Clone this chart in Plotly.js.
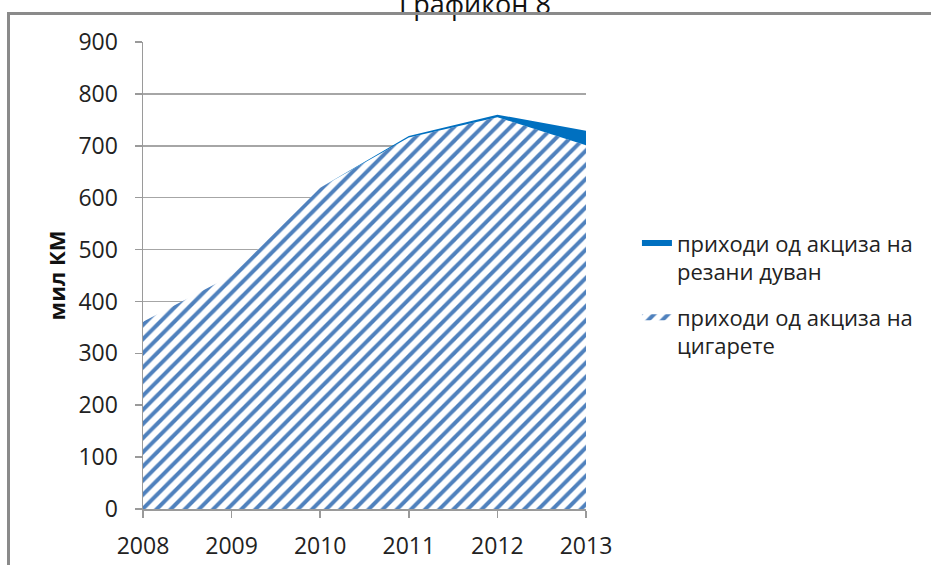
<!DOCTYPE html>
<html>
<head>
<meta charset="utf-8">
<script src="https://cdn.plot.ly/plotly-3.0.1.min.js"></script>
<style>
  html, body { margin: 0; padding: 0; background: #fff; overflow: hidden; }
  #chart { width: 931px; height: 565px; position: absolute; left: 0; top: 0; }
  #frame { position: absolute; left: 7px; top: 12px; width: 1000px; height: 700px;
           border-top: 3px solid #8a8a8a; border-left: 3px solid #8a8a8a; pointer-events: none; }
</style>
</head>
<body>
<div id="chart"></div>
<div id="frame"></div>
<script>
const years = [2008, 2009, 2010, 2011, 2012, 2013];
const cigarettes = [361, 450, 619, 716, 755, 701];
const cutTobacco = [0, 0, 0, 3, 5, 28];
const seriesNames = ['приходи од акциза на<br>цигарете', 'приходи од акциза на<br>резани дуван'];
const yTicks = [0, 100, 200, 300, 400, 500, 600, 700, 800, 900];

const font = 'Open Sans, Liberation Sans, sans-serif';

const traces = [
  {
    x: years, y: cigarettes, name: seriesNames[0], type: 'scatter', mode: 'none',
    stackgroup: 'one', fillcolor: 'white',
    fillpattern: {shape: '/', fgcolor: '#4f81bd', bgcolor: 'white', size: 10, solidity: 0.4},
    legendgroup: 'a', legendrank: 2
  },
  {
    x: years, y: cutTobacco, name: seriesNames[1], type: 'scatter', mode: 'none',
    stackgroup: 'one', fillcolor: '#0070c0',
    legendgroup: 'b', legendrank: 1
  }
];

const layout = {
  width: 931, height: 565,
  margin: {l: 143, r: 345, t: 42, b: 56},
  paper_bgcolor: 'white', plot_bgcolor: 'white',
  font: {family: font, color: '#222', size: 22},
  title: {text: 'Графикон 8', font: {family: font, size: 27, color: '#111'},
          x: 475 / 931, xanchor: 'center', y: 1 - 14 / 565, yanchor: 'bottom'},
  showlegend: true,
  legend: {x: 1.115, xanchor: 'left', y: 0.614, yanchor: 'top', traceorder: 'grouped',
           valign: 'top', tracegroupgap: 14, font: {family: font, size: 22, color: '#222'},
           bgcolor: 'rgba(0,0,0,0)', itemwidth: 30},
  xaxis: {range: [2008, 2013], tickvals: years, ticktext: years.map(String),
          showgrid: false, zeroline: false, showline: true, linecolor: '#9a9a9a', linewidth: 1.5,
          ticks: 'outside', ticklen: 7, tickcolor: '#9a9a9a', tickwidth: 1.5, ticklabelstandoff: 9,
          tickfont: {family: font, size: 23, color: '#222'}},
  yaxis: {range: [0, 900], tickvals: yTicks, ticktext: yTicks.map(String),
          showgrid: true, gridcolor: '#a6a6a6', gridwidth: 1.5, zeroline: false,
          showline: true, linecolor: '#9a9a9a', linewidth: 1.5,
          ticks: 'outside', ticklen: 7, tickcolor: '#9a9a9a', tickwidth: 1.5, ticklabelstandoff: 12,
          tickfont: {family: font, size: 23, color: '#222'},
          title: {text: '<b>мил КМ</b>', font: {family: font, size: 22, color: '#111'}, standoff: 6}}
};

Plotly.newPlot('chart', traces, layout, {displayModeBar: false, staticPlot: true});
</script>
</body>
</html>
